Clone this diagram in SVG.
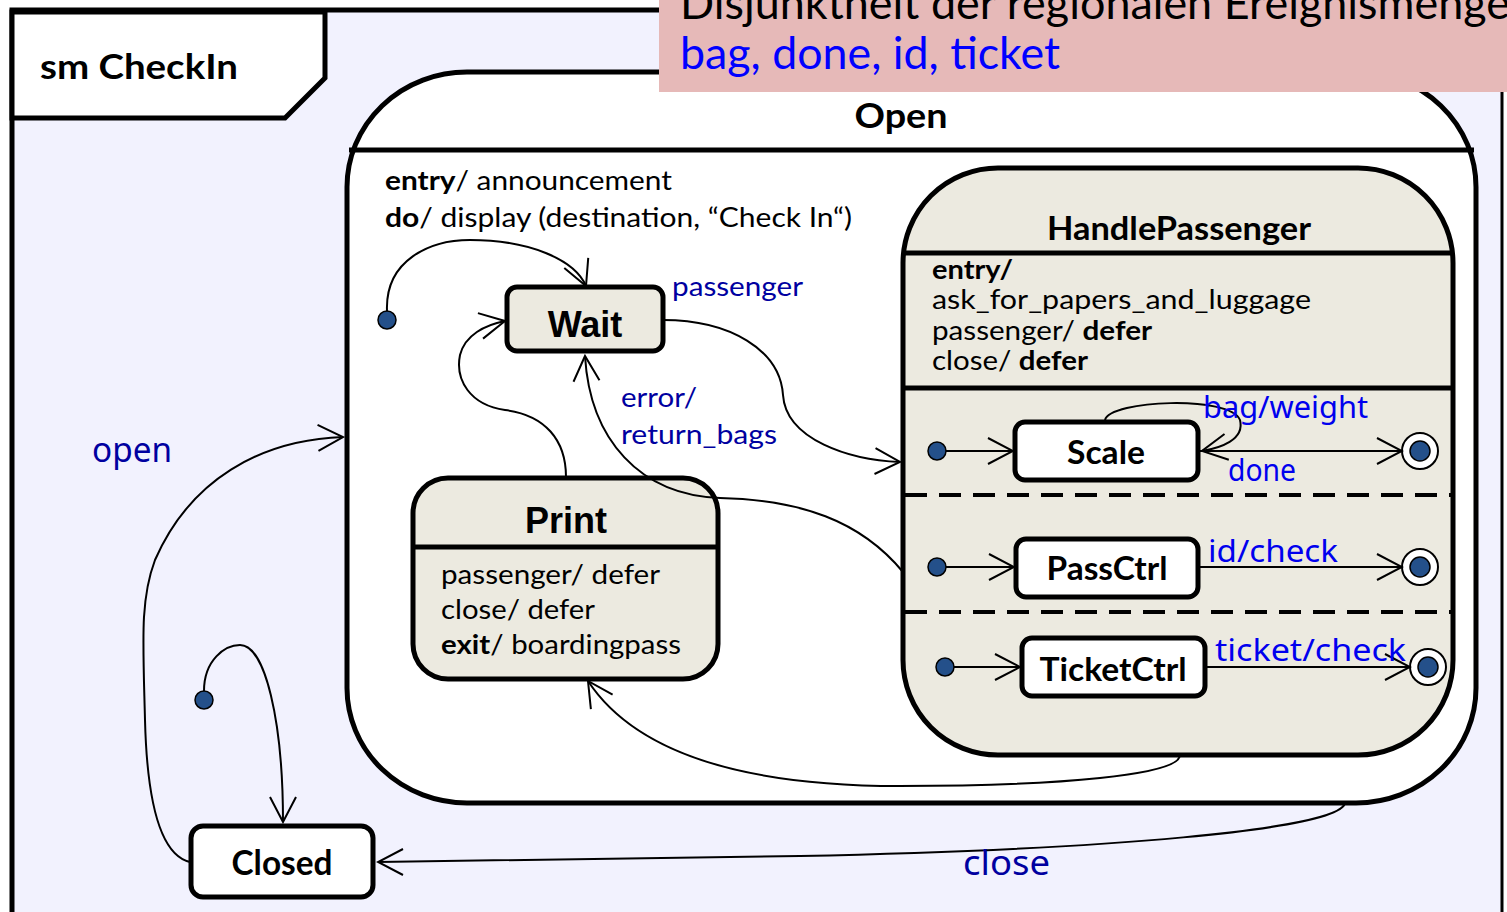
<svg xmlns="http://www.w3.org/2000/svg" width="1507" height="912" viewBox="0 0 1507 912">
<style>
.cal{font-family:Lato,"Open Sans","Liberation Sans",sans-serif;fill:#000}
.b{font-weight:bold}
.ar{font-family:"Liberation Sans",Arial,sans-serif;font-weight:bold;fill:#000}
.hand{font-family:"Noto Sans","DejaVu Sans",sans-serif}
.lbl{fill:#0000A0}
.lblb{fill:#0000EE}
.state{stroke:#000;stroke-width:5}
.beige{fill:#ECEAE0}
.white{fill:#fff}
.conn path{fill:none;stroke:#000;stroke-width:2}
.init{fill:#24508A;stroke:#000;stroke-width:1.5}
</style>
<defs>
<marker id="arr" viewBox="-28 -16 30 32" refX="0" refY="0" markerWidth="30" markerHeight="32" markerUnits="userSpaceOnUse" orient="auto">
<path d="M -25,-13 L 0,0 L -25,13" fill="none" stroke="#000" stroke-width="2"/>
</marker>
</defs>
<rect x="0" y="0" width="1507" height="912" fill="#fff"/>
<g id="frame">
<rect x="12" y="10" width="1490" height="910" fill="#F2F2FE"/>
<path d="M 12,912 V 10 H 1502" fill="none" stroke="#000" stroke-width="5"/>
<path d="M 1502,10 V 912" fill="none" stroke="#000" stroke-width="3"/>
<path d="M 12,12 H 325 V 78 L 285,118 H 12 Z" fill="#fff" stroke="#000" stroke-width="5"/>
<text x="40" y="79" class="cal b" font-size="34" textLength="198" lengthAdjust="spacingAndGlyphs">sm CheckIn</text>
</g>
<g id="Open">
<rect x="347" y="72" width="1129" height="731" rx="120" ry="115" class="state white"/>
<line x1="349" y1="150" x2="1474" y2="150" stroke="#000" stroke-width="5"/>
<text x="901" y="128" text-anchor="middle" class="cal b" font-size="34" textLength="93" lengthAdjust="spacingAndGlyphs">Open</text>
<text x="385" y="190" class="cal" font-size="27" textLength="287" lengthAdjust="spacingAndGlyphs"><tspan class="b">entry</tspan>/ announcement</text>
<text x="385" y="227" class="cal" font-size="27" textLength="467" lengthAdjust="spacingAndGlyphs"><tspan class="b">do</tspan>/ display (destination, “Check In“)</text>
</g>
<g id="Wait">
<rect x="507" y="287" width="156" height="64" rx="10" class="state beige"/>
<text x="585" y="337" text-anchor="middle" class="ar" font-size="36">Wait</text>
</g>
<g id="Print">
<rect x="413" y="478" width="305" height="201" rx="35" class="state beige"/>
<line x1="415" y1="547" x2="716" y2="547" stroke="#000" stroke-width="5"/>
<text x="566" y="533" text-anchor="middle" class="ar" font-size="36">Print</text>
<text x="441" y="584" class="cal" font-size="27" textLength="219" lengthAdjust="spacingAndGlyphs">passenger/ defer</text>
<text x="441" y="619" class="cal" font-size="27" textLength="154" lengthAdjust="spacingAndGlyphs">close/ defer</text>
<text x="441" y="654" class="cal" font-size="27" textLength="240" lengthAdjust="spacingAndGlyphs"><tspan class="b">exit</tspan>/ boardingpass</text>
</g>
<g id="HandlePassenger">
<rect x="903" y="168" width="550" height="587" rx="95" ry="95" class="state beige"/>
<line x1="905" y1="253" x2="1451" y2="253" stroke="#000" stroke-width="5"/>
<line x1="905" y1="388" x2="1451" y2="388" stroke="#000" stroke-width="5"/>
<line x1="905" y1="495" x2="1451" y2="495" stroke="#000" stroke-width="4" stroke-dasharray="22 12"/>
<line x1="905" y1="612" x2="1451" y2="612" stroke="#000" stroke-width="4" stroke-dasharray="22 12"/>
<text x="1179" y="240" text-anchor="middle" class="cal b" font-size="32" textLength="264" lengthAdjust="spacingAndGlyphs">HandlePassenger</text>
<text x="932" y="279" class="cal b" font-size="27" textLength="81" lengthAdjust="spacingAndGlyphs">entry/</text>
<text x="932" y="309" class="cal" font-size="27" textLength="379" lengthAdjust="spacingAndGlyphs">ask_for_papers_and_luggage</text>
<text x="932" y="340" class="cal" font-size="27" textLength="220" lengthAdjust="spacingAndGlyphs">passenger/ <tspan class="b">defer</tspan></text>
<text x="932" y="370" class="cal" font-size="27" textLength="156" lengthAdjust="spacingAndGlyphs">close/ <tspan class="b">defer</tspan></text>
</g>
<g id="Scale">
<rect x="1015" y="422" width="183" height="58" rx="10" class="state white"/>
<text x="1106" y="464" text-anchor="middle" class="cal b" font-size="32" textLength="78" lengthAdjust="spacingAndGlyphs">Scale</text>
</g>
<g id="PassCtrl">
<rect x="1016" y="539" width="182" height="58" rx="10" class="state white"/>
<text x="1107" y="580" text-anchor="middle" class="cal b" font-size="32" textLength="121" lengthAdjust="spacingAndGlyphs">PassCtrl</text>
</g>
<g id="TicketCtrl">
<rect x="1022" y="638" width="183" height="58" rx="10" class="state white"/>
<text x="1113" y="681" text-anchor="middle" class="cal b" font-size="32" textLength="147" lengthAdjust="spacingAndGlyphs">TicketCtrl</text>
</g>
<g id="Closed">
<rect x="191" y="826" width="182" height="71" rx="12" class="state white"/>
<text x="282" y="875" text-anchor="middle" class="cal b" font-size="34" textLength="101" lengthAdjust="spacingAndGlyphs">Closed</text>
</g>
<g id="pseudostates">
<circle cx="387" cy="320" r="9" class="init"/>
<circle cx="204" cy="700" r="9" class="init"/>
<circle cx="937" cy="451" r="9" class="init"/>
<circle cx="937" cy="567" r="9" class="init"/>
<circle cx="945" cy="667" r="9" class="init"/>
<circle cx="1420" cy="451" r="18" fill="#fff" stroke="#000" stroke-width="2"/>
<circle cx="1420" cy="451" r="10" class="init"/>
<circle cx="1420" cy="567" r="18" fill="#fff" stroke="#000" stroke-width="2"/>
<circle cx="1420" cy="567" r="10" class="init"/>
<circle cx="1428" cy="667" r="18" fill="#fff" stroke="#000" stroke-width="2"/>
<circle cx="1428" cy="667" r="10" class="init"/>
</g>
<g id="connectors" class="conn">
<path d="M 387,311 C 385,260 430,240 470,240 C 530,240 575,260 586,286" marker-end="url(#arr)"/>
<path d="M 663,320 C 730,320 780,350 783,395 C 786,440 850,460 900,462" marker-end="url(#arr)"/>
<path d="M 903,572 C 860,520 800,500 720,498 C 640,495 590,440 585,356" marker-end="url(#arr)"/>
<path d="M 566,477 C 566,440 545,415 505,410 C 470,405 455,380 460,355 C 465,335 485,325 505,321" marker-end="url(#arr)"/>
<path d="M 1180,755 C 1180,775 1060,786 900,786 C 760,786 640,760 588,681" marker-end="url(#arr)"/>
<path d="M 204,691 C 204,660 225,645 240,645 C 265,645 283,720 283,822" marker-end="url(#arr)"/>
<path d="M 190,862 C 160,855 147,800 145,720 C 143,640 140,600 155,560 C 190,480 260,440 343,437" marker-end="url(#arr)"/>
<path d="M 1345,803 C 1340,830 1100,850 800,856 C 600,860 450,862 378,862" marker-end="url(#arr)"/>
<path d="M 1105,420 C 1110,400 1230,395 1240,420 C 1245,440 1220,448 1202,451" marker-end="url(#arr)"/>
<path d="M 1200,451 H 1402" marker-end="url(#arr)"/>
<path d="M 946,451 H 1013" marker-end="url(#arr)"/>
<path d="M 946,567 H 1014" marker-end="url(#arr)"/>
<path d="M 1198,567 H 1402" marker-end="url(#arr)"/>
<path d="M 954,667 H 1020" marker-end="url(#arr)"/>
<path d="M 1205,667 H 1410" marker-end="url(#arr)"/>
</g>
<g id="labels">
<text x="672" y="296" class="cal lbl" font-size="27" textLength="131" lengthAdjust="spacingAndGlyphs">passenger</text>
<text x="621" y="407" class="cal lbl" font-size="27" textLength="76" lengthAdjust="spacingAndGlyphs">error/</text>
<text x="621" y="444" class="cal lbl" font-size="27" textLength="156" lengthAdjust="spacingAndGlyphs">return_bags</text>
<text x="1203" y="418" class="hand lblb" font-size="30" textLength="165" lengthAdjust="spacingAndGlyphs">bag/weight</text>
<text x="1228" y="481" class="hand lblb" font-size="30" textLength="68" lengthAdjust="spacingAndGlyphs">done</text>
<text x="1208" y="562" class="hand lblb" font-size="30" textLength="130" lengthAdjust="spacingAndGlyphs">id/check</text>
<text x="1215" y="661" class="hand lblb" font-size="30" textLength="191" lengthAdjust="spacingAndGlyphs">ticket/check</text>
<text x="92" y="462" class="hand lbl" font-size="34" textLength="80" lengthAdjust="spacingAndGlyphs">open</text>
<text x="963" y="875" class="hand lbl" font-size="34" textLength="87" lengthAdjust="spacingAndGlyphs">close</text>
</g>
<g id="note">
<rect x="659" y="0" width="848" height="92" fill="#E6B9B8"/>
<text x="680" y="19" class="cal" font-size="44" textLength="830" lengthAdjust="spacingAndGlyphs">Disjunktheit der regionalen Ereignismenge</text>
<text x="680" y="69" class="cal" font-size="44" fill="#0000FF" style="fill:#0000FF" textLength="380" lengthAdjust="spacingAndGlyphs">bag, done, id, ticket</text>
</g>
</svg>
